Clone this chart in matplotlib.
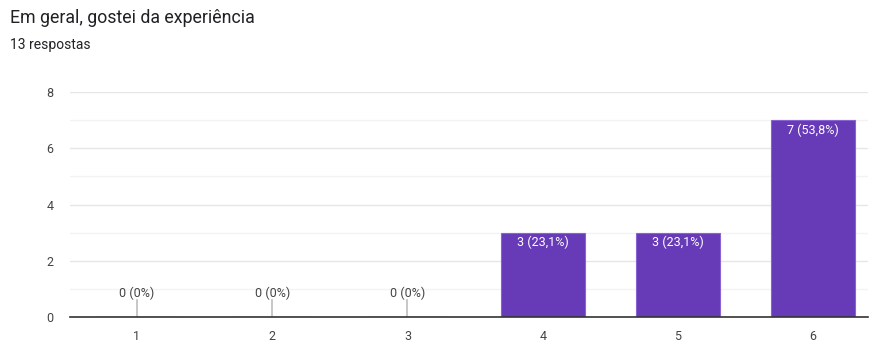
import matplotlib
matplotlib.use("Agg")
import matplotlib.pyplot as plt

categories = [1, 2, 3, 4, 5, 6]
counts = [0, 0, 0, 3, 3, 7]
labels = ["0 (0%)", "0 (0%)", "0 (0%)", "3 (23,1%)", "3 (23,1%)", "7 (53,8%)"]
title = "Em geral, gostei da experiência"
subtitle = "13 respostas"

plt.rcParams['font.family'] = ['Roboto', 'DejaVu Sans']

fig = plt.figure(figsize=(8.71, 3.42), dpi=100)
ax = fig.add_axes([70 / 871, 1 - 317 / 342, 798 / 871, 225 / 342])

bar_color = "#673ab7"
width = 0.62
ax.bar(categories, counts, width=width, color=bar_color, zorder=3,
       edgecolor="#8a63d2", linewidth=0.8)

for x, c, lab in zip(categories, counts, labels):
    if c == 0:
        ax.plot([x, x], [0, 0.6], color="#bdbdbd", lw=1.2, zorder=2)
        ax.text(x, 0.6, lab, ha="center", va="bottom", fontsize=9,
                color="#444444", zorder=4)
    else:
        ax.text(x, c - 0.12, lab, ha="center", va="top", fontsize=9,
                color="white", zorder=4)

ax.set_xlim(0.505, 6.405)
ax.set_ylim(0, 8)
ax.set_yticks([0, 2, 4, 6, 8])
ax.set_yticks([1, 3, 5, 7], minor=True)
ax.set_xticks(categories)
ax.grid(axis="y", which="major", color="#e6e6e6", lw=1, zorder=0)
ax.grid(axis="y", which="minor", color="#f3f3f3", lw=1, zorder=0)
ax.tick_params(axis="both", which="both", length=0, labelsize=9,
               labelcolor="#444444")
ax.tick_params(axis="y", pad=12)
ax.tick_params(axis="x", pad=9)
for s in ["top", "right", "left"]:
    ax.spines[s].set_visible(False)
ax.spines["bottom"].set_color("#333333")
ax.spines["bottom"].set_linewidth(1.2)
ax.spines["bottom"].set_zorder(5)

fig.text(10 / 871, 1 - 18 / 342, title, fontsize=12.8, color="#202124",
         va="center", ha="left")
fig.text(10 / 871, 1 - 45 / 342, subtitle, fontsize=10, color="#202124",
         va="center", ha="left")

fig.savefig("out.png", dpi=100)
